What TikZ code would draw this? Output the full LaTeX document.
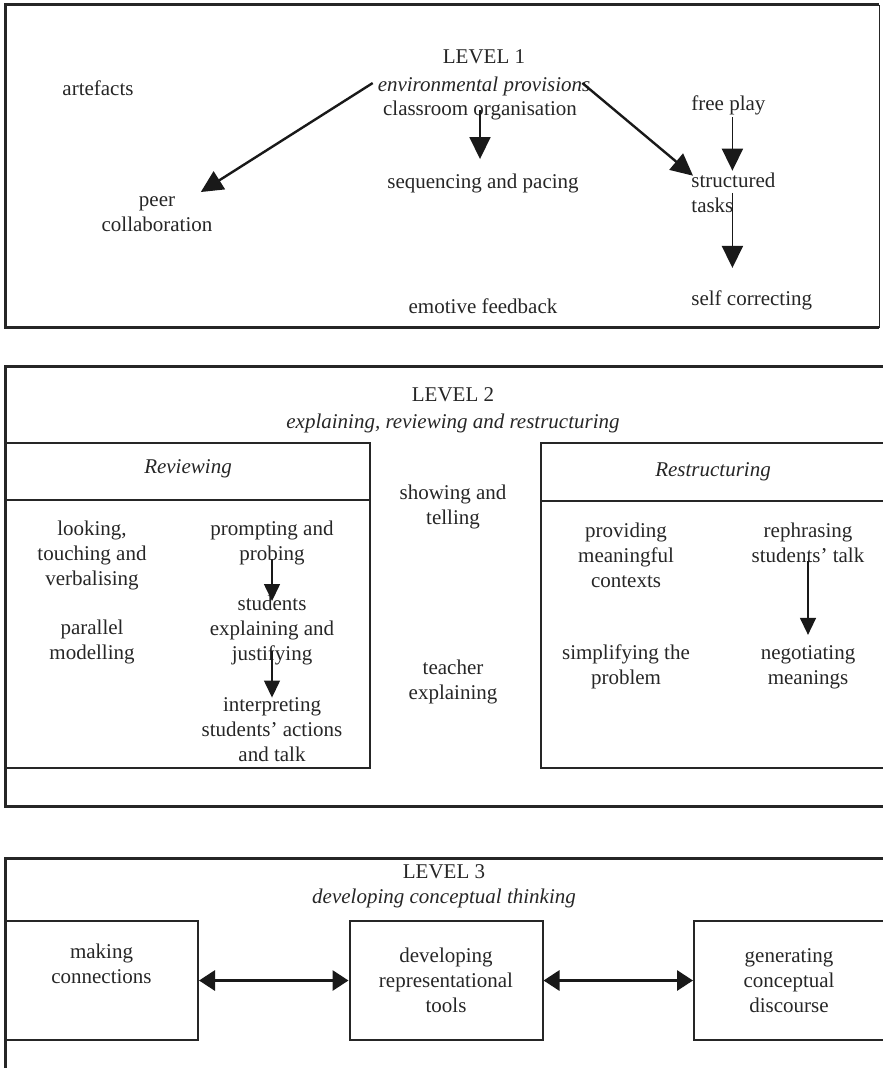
\documentclass[tikz,border=0pt]{standalone}
\usepackage{fontspec}
\setmainfont{Liberation Serif}
\usetikzlibrary{arrows.meta}
\begin{document}
\begin{tikzpicture}[x=0.5pt,y=-0.5pt,>={Triangle[length=11pt,width=10.5pt]},
	font=\fontsize{10.5pt}{12.5pt}\selectfont,
	txt/.style={align=center,inner sep=1pt,text=black!85},
	outer/.style={line width=1.5pt,black!85},
	box/.style={line width=1pt,black!85},
	bigarr/.style={->,line width=1.2pt,black!90},
	midarr/.style={->,line width=0.9pt,black!90},
	smallarr/.style={-{Triangle[length=8.5pt,width=8pt]},line width=0.7pt,black!90},
	dblarr/.style={{Triangle[length=8pt,width=10pt]}-{Triangle[length=8pt,width=10pt]},line width=1.5pt,black!90},
	lthree/.style={txt,draw=black!85,line width=1pt,minimum width=96.5pt,minimum height=59.5pt}]
	\useasboundingbox (0,0) rectangle (882,1068);
	% level 1
	\draw[outer] (879,5)--(5,5)--(5,328)--(879,328);
	\draw[black!85,thin] (879,5)--(879,328);
	\node[txt] (lvA) at (484,57) {LEVEL 1};
	\node[txt] (envA) at (484,86) {\textit{environmental provisions}};
	\node[txt] (org) at (480,110) {classroom organisation};
	\node[txt] (art) at (98,88) {artefacts};
	\node[txt] (peer) at (157,214) {peer\\collaboration};
	\node[txt] (seq) at (483,183) {sequencing and pacing};
	\node[txt,anchor=west] (free) at (689,105) {free play};
	\node[txt,anchor=west,align=left] (struct) at (689,193) {structured\\tasks};
	\node[txt,anchor=west] (self) at (689,300) {self correcting};
	\node[txt] (emo) at (483,306) {emotive feedback};
	\draw[bigarr] ([shift={(-8,-15)}]org.north west)--([shift={(-14,-2)}]peer.north east);
	\draw[midarr,shorten >=6pt] (org.center)--(org.center|-seq.north);
	\draw[bigarr] ([shift={(3,-15)}]org.north east)--([shift={(4,5)}]struct.north west);
	\draw[midarr] ([xshift=2pt]free.south)--([xshift=2pt]free.south|-struct.north);
	\draw[midarr,shorten >=10pt] ([xshift=2pt]free.south|-struct.center)--([xshift=2pt]free.south|-self.north);
	% level 2
	\draw[outer] (890,367)--(5,367)--(5,806)--(890,806);
	\draw[box] (5,443) rectangle (370,768) (5,500)--(370,500);
	\draw[box] (890,443)--(541,443)--(541,768)--(890,768) (541,501)--(890,501);
	\node[txt] (lvB) at (453,395) {LEVEL 2};
	\node[txt] (expB) at (453,423) {\textit{explaining, reviewing and restructuring}};
	\node[txt] (rev) at (188,469) {\textit{Reviewing}};
	\node[txt] (rst) at (713,472) {\textit{Restructuring}};
	\node[txt] (show) at (453,507) {showing and\\telling};
	\node[txt] (teach) at (453,682) {teacher\\explaining};
	\node[txt] (look) at (92,555) {looking,\\touching and\\verbalising};
	\node[txt] (para) at (92,642) {parallel\\modelling};
	\node[txt] (prompt) at (272,543) {prompting and\\probing};
	\node[txt] (stud) at (272,630) {students\\explaining and\\justifying};
	\node[txt] (interp) at (272,730) {interpreting\\students’ actions\\and talk};
	\node[txt] (prov) at (626,555) {providing\\meaningful\\contexts};
	\node[txt] (reph) at (808,543) {rephrasing\\students’ talk};
	\node[txt] (simp) at (626,667) {simplifying the\\problem};
	\node[txt] (nego) at (808,667) {negotiating\\meanings};
	\draw[smallarr,shorten <=-4pt,shorten >=-4pt] (prompt.south)--(stud.north);
	\draw[smallarr,shorten <=-8pt,shorten >=-1pt] (stud.south)--(interp.north);
	\draw[smallarr,shorten <=-2pt,shorten >=4pt] (reph.south)--(nego.north);
	% level 3
	\draw[outer] (890,858)--(5,858)--(5,1075);
	\node[txt] (lvC) at (444,872) {LEVEL 3};
	\node[txt] (devC) at (444,898) {\textit{developing conceptual thinking}};
	\node[lthree,text depth=17pt] (make) at (101.5,980.5) {making\\connections};
	\node[lthree] (dev) at (446,980.5) {developing\\representational\\tools};
	\node[lthree,minimum width=95pt] (gen) at (789,980.5) {generating\\conceptual\\discourse};
	\draw[dblarr] (make)--(dev);
	\draw[dblarr] (dev)--(gen);
\end{tikzpicture}
\end{document}
